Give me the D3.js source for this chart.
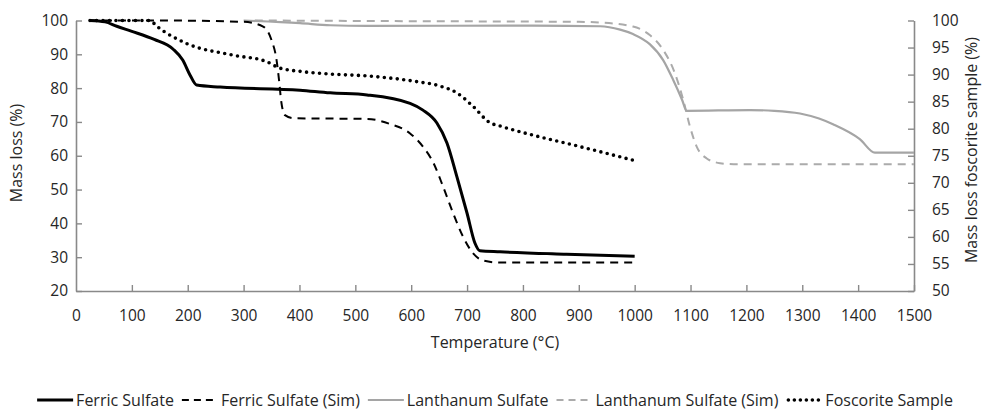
<!DOCTYPE html>
<html>
<head>
<meta charset="utf-8">
<script src="https://cdn.jsdelivr.net/npm/d3@7"></script>
<style>
  body { margin: 0; background: #fff; }
  svg { display: block; font-family: "Open Sans", sans-serif; }
  .tick text { fill: #262626; font-size: 15.5px; }
</style>
</head>
<body>
<div id="chart"></div>
<script>
// temperatures (°C) and mass (%)
var ferricT     = [25, 52, 73, 100, 140, 174, 191, 204, 216, 258, 401, 455, 521, 598, 621, 646, 664, 682, 700, 714, 723, 759, 878, 1000]
var ferricM     = [100, 99.6, 98.3, 96.8, 94.4, 91.5, 88.3, 83.9, 80.9, 80.3, 79.4, 78.6, 78.0, 75.5, 73.5, 69.7, 63.8, 53.7, 43.0, 34.2, 31.9, 31.6, 30.9, 30.3]

var ferricSimT  = [25, 150, 300, 335, 350, 359, 364, 367, 374, 389, 455, 521, 562, 598, 621, 640, 657, 675, 693, 711, 729, 759, 1000]
var ferricSimM  = [100, 100, 99.6, 98.2, 94.2, 88.3, 81.5, 76.5, 72.0, 71.1, 71.0, 70.9, 69.4, 66.6, 62.7, 57.8, 50.9, 43.0, 36.0, 31.1, 29.0, 28.4, 28.4]

var lanT        = [300, 401, 455, 521, 818, 938, 974, 997, 1027, 1051, 1069, 1085, 1093, 1206, 1250, 1296, 1330, 1355, 1403, 1430, 1500]
var lanM        = [100, 99.2, 98.6, 98.4, 98.5, 98.3, 97.3, 96.0, 93.0, 88.3, 82.4, 76.5, 73.3, 73.5, 73.3, 72.5, 71.0, 69.3, 64.9, 60.9, 60.9]

var lanSimT     = [320, 600, 900, 938, 997, 1027, 1051, 1072, 1087, 1099, 1111, 1129, 1153, 1177, 1500]
var lanSimM     = [100, 99.8, 99.6, 99.4, 98.2, 95.7, 91.3, 84.4, 76.5, 68.6, 62.7, 59.2, 57.8, 57.5, 57.5]

// foscorite sample is on the right-hand axis
var fosT        = [25, 80, 132, 145, 198, 281, 341, 365, 401, 455, 521, 610, 651, 682, 711, 741, 759, 818, 878, 938, 1000]
var fosM        = [100, 100, 100, 98.9, 95.75, 93.6, 92.4, 91.2, 90.6, 90.1, 89.75, 88.7, 87.9, 86.6, 84.1, 81.1, 80.5, 78.8, 77.3, 75.75, 74.1]

var xTicks      = d3.range(0, 1501, 100)
var yLeftTicks  = d3.range(20, 101, 10)
var yRightTicks = d3.range(50, 101, 5)

var legendNames = ["Ferric Sulfate", "Ferric Sulfate (Sim)", "Lanthanum Sulfate", "Lanthanum Sulfate (Sim)", "Foscorite Sample"]

var width = 984, height = 410
var svg = d3.select("#chart").append("svg")
    .attr("width", width)
    .attr("height", height)

var x = d3.scaleLinear().domain([0, 1500]).range([76, 914])
var yL = d3.scaleLinear().domain([20, 100]).range([291, 20.5])
var yR = d3.scaleLinear().domain([50, 100]).range([291, 20.5])

var axisColor = "#898989"
var fmt = d3.format("d")

// axes
var gx = svg.append("g")
    .attr("transform", "translate(0," + yL(20) + ")")
    .call(d3.axisBottom(x).tickValues(xTicks).tickFormat(fmt).tickSizeInner(-6).tickSizeOuter(0).tickPadding(19))
var gl = svg.append("g")
    .attr("transform", "translate(" + x(0) + ",0)")
    .call(d3.axisLeft(yL).tickValues(yLeftTicks).tickFormat(fmt).tickSizeInner(-6).tickSizeOuter(0).tickPadding(8))
var gr = svg.append("g")
    .attr("transform", "translate(" + x(1500) + ",0)")
    .call(d3.axisRight(yR).tickValues(yRightTicks).tickFormat(fmt).tickSizeInner(-6).tickSizeOuter(0).tickPadding(18))

;[gx, gl, gr].forEach(function(g){
  g.select(".domain").attr("stroke", axisColor).attr("stroke-width", 1.6)
  g.selectAll(".tick line").attr("stroke", axisColor).attr("stroke-width", 1.4)
  g.selectAll(".tick text").attr("font-family", "Open Sans")
})
gx.selectAll(".tick").filter(function(d){ return d == 0 }).select("line").remove()

// titles
svg.append("text")
    .attr("x", x(750)).attr("y", 348)
    .attr("text-anchor", "middle")
    .attr("font-size", 16).attr("fill", "#262626")
    .text("Temperature (°C)")
svg.append("text")
    .attr("transform", "translate(22,153) rotate(-90)")
    .attr("text-anchor", "middle")
    .attr("font-size", 16).attr("fill", "#262626")
    .text("Mass loss (%)")
svg.append("text")
    .attr("transform", "translate(977,150) rotate(-90)")
    .attr("text-anchor", "middle")
    .attr("font-size", 16).attr("fill", "#262626")
    .text("Mass loss foscorite sample (%)")

// series
var series = [
  { name: legendNames[0], t: ferricT,    m: ferricM,    y: yL, color: "#000",    width: 3,   dash: null,  cap: "butt" },
  { name: legendNames[1], t: ferricSimT, m: ferricSimM, y: yL, color: "#000",    width: 2,   dash: "8,6", cap: "butt" },
  { name: legendNames[2], t: lanT,       m: lanM,       y: yL, color: "#a5a5a5", width: 2.2, dash: null,  cap: "butt" },
  { name: legendNames[3], t: lanSimT,    m: lanSimM,    y: yL, color: "#ababab", width: 2,   dash: "8,6", cap: "butt" },
  { name: legendNames[4], t: fosT,       m: fosM,       y: yR, color: "#000",    width: 3.6, dash: "0,6.5", cap: "round" }
]

var plot = svg.append("g")
series.slice().reverse().forEach(function(s){
  var pts = s.t.map(function(t, i){ return [t, s.m[i]] })
  var line = d3.line()
      .x(function(d){ return x(d[0]) })
      .y(function(d){ return s.y(d[1]) })
      .curve(d3.curveMonotoneX)
  plot.append("path")
      .datum(pts)
      .attr("d", line)
      .attr("fill", "none")
      .attr("stroke", s.color)
      .attr("stroke-width", s.width)
      .attr("stroke-dasharray", s.dash)
      .attr("stroke-linecap", s.cap)
})

// legend
var legend = svg.append("g").attr("font-size", 16)
var lx = 0, symW = 36
series.forEach(function(s){
  var item = legend.append("g").attr("transform", "translate(" + lx + ",0)")
  item.append("line")
      .attr("x1", s.cap == "round" ? 2 : 0).attr("x2", symW).attr("y1", 0).attr("y2", 0)
      .attr("stroke", s.color)
      .attr("stroke-width", s.width)
      .attr("stroke-dasharray", s.dash == null ? null : (s.cap == "round" ? "0,6" : "7,5"))
      .attr("stroke-linecap", s.cap)
  var txt = item.append("text")
      .attr("x", symW + 3).attr("y", 5.5)
      .attr("fill", "#262626")
      .text(s.name)
  lx += symW + 3 + txt.node().getComputedTextLength() + 8
})
var legendW = lx - 8
legend.attr("transform", "translate(" + (495 - legendW / 2) + ",400)")
</script>
</body>
</html>
